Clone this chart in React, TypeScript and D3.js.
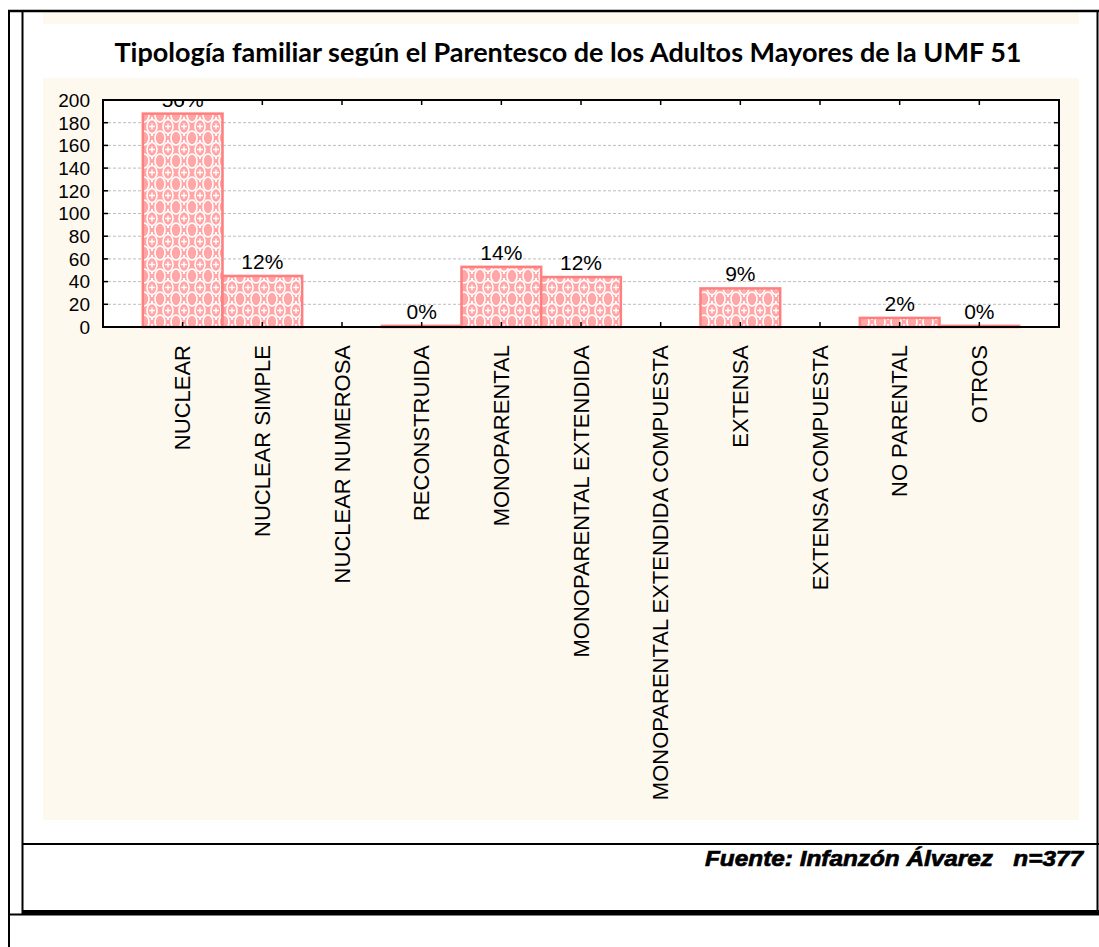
import * as d3 from "d3";

// data
const categories = [
  "NUCLEAR",
  "NUCLEAR SIMPLE",
  "NUCLEAR NUMEROSA",
  "RECONSTRUIDA",
  "MONOPARENTAL",
  "MONOPARENTAL EXTENDIDA",
  "MONOPARENTAL EXTENDIDA COMPUESTA",
  "EXTENSA",
  "EXTENSA COMPUESTA",
  "NO PARENTAL",
  "OTROS",
];
const counts = [188, 45, 0, 1, 53, 44, 0, 34, 0, 8, 1];
const pctLabels = ["50%", "12%", "", "0%", "14%", "12%", "", "9%", "", "2%", "0%"];
const yTicks = [0, 20, 40, 60, 80, 100, 120, 140, 160, 180, 200];

const title = "Tipología familiar según el Parentesco de los Adultos Mayores de la UMF 51";
const source = "Fuente: Infanzón Álvarez   n=377";

const W = 1099, H = 947;
const plot = { left: 103, top: 100, right: 1059, bottom: 327 };
const cream = "#fef9ee";
const pink = "#ff7f7f";
const arial = "'Liberation Sans', Arial, sans-serif";

export default function App() {
  const x = d3.scaleBand<string>()
    .domain(categories)
    .range([plot.left, plot.right])
    .paddingInner(0)
    .paddingOuter(0.5);
  const y = d3.scaleLinear().domain([0, 200]).range([plot.bottom, plot.top]);
  const bw = x.bandwidth();

  return (
    <svg width={W} height={H} style={{ position: "absolute", left: 0, top: 0, background: "#fff" }}>
      <defs>
        <pattern id="hatch" width={16} height={23} patternUnits="userSpaceOnUse">
          <rect width={16} height={23} fill="#ffa6a6" />
          <ellipse cx={8} cy={11.5} rx={5} ry={7} fill="none" stroke="#fff" strokeWidth={1.6} />
          <ellipse cx={0} cy={0} rx={5} ry={7} fill="none" stroke="#fff" strokeWidth={1.6} />
          <ellipse cx={16} cy={0} rx={5} ry={7} fill="none" stroke="#fff" strokeWidth={1.6} />
          <ellipse cx={0} cy={23} rx={5} ry={7} fill="none" stroke="#fff" strokeWidth={1.6} />
          <ellipse cx={16} cy={23} rx={5} ry={7} fill="none" stroke="#fff" strokeWidth={1.6} />
          <path d="M8 8.5v6M5 11.5h6" stroke="#fff" strokeWidth={1.4} />
          <rect x={7} y={2} width={2} height={2} fill="#fff" />
          <rect x={7} y={19} width={2} height={2} fill="#fff" />
        </pattern>
        <clipPath id="plotClip">
          <rect x={plot.left} y={plot.top} width={plot.right - plot.left} height={plot.bottom - plot.top} />
        </clipPath>
      </defs>

      {/* cream backgrounds */}
      <rect x={43} y={12} width={1036} height={12} fill={cream} />
      <rect x={43} y={78} width={1036} height={742} fill={cream} />

      {/* title */}
      <text x={568} y={62} textAnchor="middle" fontFamily="Lato, 'Open Sans', sans-serif" fontWeight="bold"
        fontSize={26} textLength={907} lengthAdjust="spacingAndGlyphs">
        {title}
      </text>

      {/* plot area */}
      <rect x={plot.left} y={plot.top} width={plot.right - plot.left} height={plot.bottom - plot.top} fill="#fff" />
      {yTicks.filter((t) => t > 0 && t < 200).map((t) => (
        <line key={"g" + t} x1={plot.left} x2={plot.right} y1={y(t)} y2={y(t)}
          stroke="#bdbdbd" strokeWidth={1} strokeDasharray="3,2" />
      ))}

      {/* bars */}
      {categories.map((c, i) =>
        counts[i] > 0 ? (
          <rect key={"b" + c} x={x(c)!} y={y(counts[i])} width={bw}
            height={plot.bottom - y(counts[i])} fill="url(#hatch)" stroke={pink} strokeWidth={2.5} />
        ) : null
      )}

      {/* value labels */}
      <g clipPath="url(#plotClip)">
        {categories.map((c, i) =>
          pctLabels[i] ? (
            <text key={"p" + c} x={x(c)! + bw / 2} y={y(counts[i]) - 7} textAnchor="middle"
              fontFamily={arial} fontSize={21}>
              {pctLabels[i]}
            </text>
          ) : null
        )}
      </g>

      {/* frame + ticks */}
      <rect x={plot.left} y={plot.top} width={plot.right - plot.left} height={plot.bottom - plot.top}
        fill="none" stroke="#000" strokeWidth={2} />
      {yTicks.map((t) => (
        <g key={"t" + t}>
          <line x1={plot.left} x2={plot.left + 5} y1={y(t)} y2={y(t)} stroke="#000" strokeWidth={1.5} />
          <line x1={plot.right} x2={plot.right - 5} y1={y(t)} y2={y(t)} stroke="#000" strokeWidth={1.5} />
          <text x={90} y={y(t)} dy="0.36em" textAnchor="end" fontFamily={arial} fontSize={19}>{t}</text>
        </g>
      ))}
      {categories.map((c) => {
        const cx = x(c)! + bw / 2;
        return (
          <g key={"x" + c}>
            <line x1={cx} x2={cx} y1={plot.bottom} y2={plot.bottom - 5} stroke="#000" strokeWidth={1.5} />
            <line x1={cx} x2={cx} y1={plot.top} y2={plot.top + 5} stroke="#000" strokeWidth={1.5} />
            <text transform={`translate(${cx},345) rotate(-90)`} dy="0.35em" textAnchor="end"
              fontFamily={arial} fontSize={22}>
              {c}
            </text>
          </g>
        );
      })}

      {/* footer */}
      <text x={1083} y={866} textAnchor="end" fontFamily={arial} fontWeight="bold" fontStyle="italic"
        fontSize={22} stroke="#000" strokeWidth={0.7} textLength={378} lengthAdjust="spacingAndGlyphs"
        style={{ whiteSpace: "pre" }}>
        {source}
      </text>

      {/* page frame lines */}
      <g stroke="#000" fill="none">
        <line x1={9} x2={9} y1={10} y2={947} strokeWidth={2} />
        <line x1={8} x2={1099} y1={11} y2={11} strokeWidth={2.5} />
        <line x1={22.5} x2={22.5} y1={11} y2={914} strokeWidth={2} />
        <line x1={1097.5} x2={1097.5} y1={11} y2={914} strokeWidth={2} />
        <line x1={22} x2={1099} y1={844} y2={844} strokeWidth={2} />
        <line x1={22} x2={1099} y1={912} y2={912} strokeWidth={4} />
        <line x1={8} x2={1099} y1={914.5} y2={914.5} strokeWidth={2} />
      </g>
    </svg>
  );
}
